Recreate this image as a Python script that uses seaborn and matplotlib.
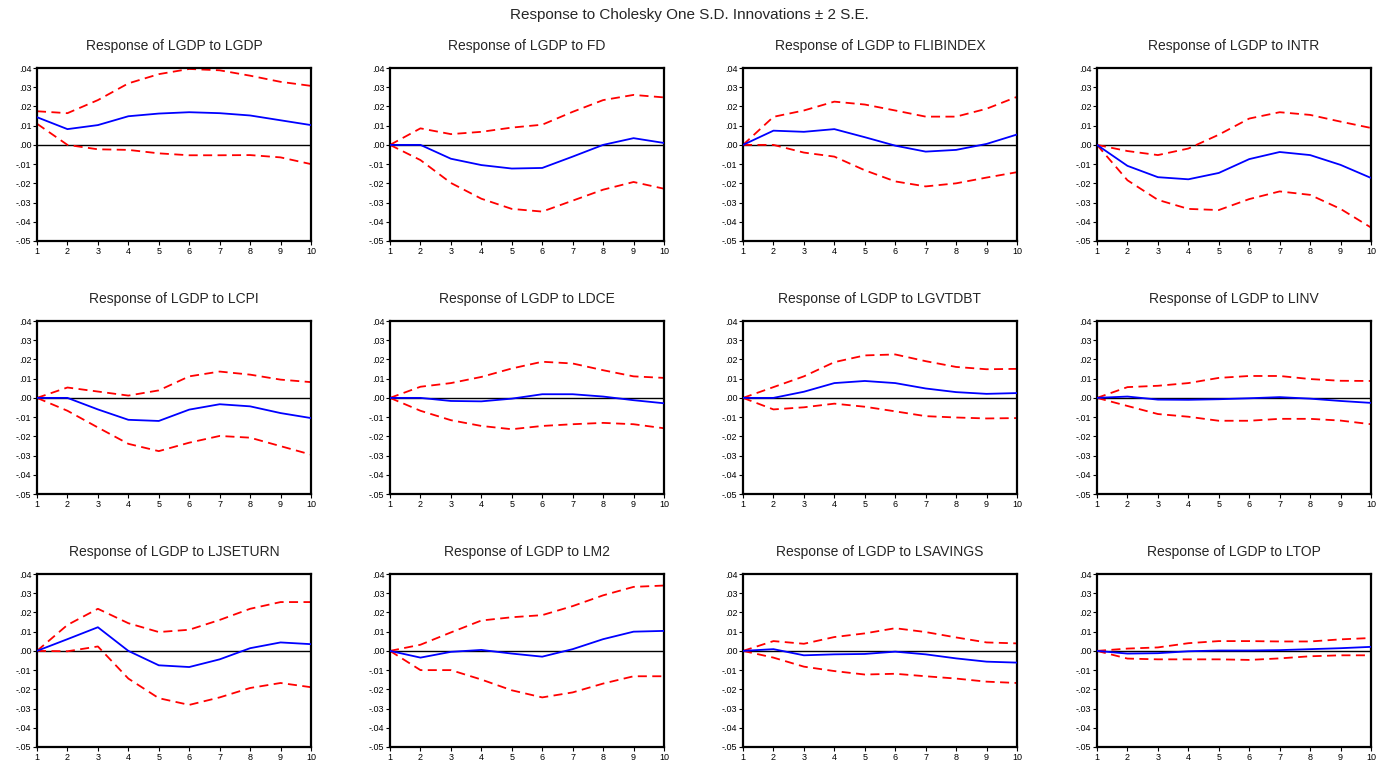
import matplotlib
matplotlib.use("Agg")
import matplotlib.pyplot as plt
import seaborn as sns
import numpy as np
import pandas as pd
from matplotlib.ticker import FuncFormatter

sns.set_style("white")
plt.rcParams['font.family'] = ['Liberation Sans', 'DejaVu Sans']

periods = list(range(1, 11))
shocks = ["LGDP", "FD", "FLIBINDEX", "INTR", "LCPI", "LDCE", "LGVTDBT", "LINV",
          "LJSETURN", "LM2", "LSAVINGS", "LTOP"]

resp_LGDP = [0.0144, 0.0082, 0.0103, 0.0149, 0.0163, 0.0170, 0.0165, 0.0153, 0.0128, 0.0103]
up_LGDP = [0.0175, 0.0165, 0.0233, 0.0320, 0.0368, 0.0395, 0.0388, 0.0360, 0.0328, 0.0307]
lo_LGDP = [0.0110, 0.0000, -0.0023, -0.0026, -0.0044, -0.0054, -0.0054, -0.0053, -0.0065, -0.0100]

resp_FD = [0.0, 0.0, -0.0072, -0.0105, -0.0123, -0.0120, -0.0061, 0.0, 0.0035, 0.0010]
up_FD = [0.0, 0.0086, 0.0056, 0.0068, 0.0090, 0.0105, 0.0172, 0.0233, 0.0260, 0.0247]
lo_FD = [0.0, -0.0079, -0.0198, -0.0280, -0.0333, -0.0347, -0.0290, -0.0233, -0.0193, -0.0228]

resp_FLIB = [0.0, 0.0074, 0.0068, 0.0082, 0.0040, -0.0004, -0.0035, -0.0026, 0.0005, 0.0054]
up_FLIB = [0.0, 0.0146, 0.0179, 0.0225, 0.0210, 0.0179, 0.0147, 0.0147, 0.0188, 0.0250]
lo_FLIB = [0.0, 0.0, -0.0040, -0.0061, -0.0132, -0.0190, -0.0216, -0.0200, -0.0170, -0.0142]

resp_INTR = [0.0, -0.0109, -0.0168, -0.0179, -0.0146, -0.0074, -0.0037, -0.0053, -0.0104, -0.0172]
up_INTR = [0.0, -0.0032, -0.0053, -0.0019, 0.0053, 0.0137, 0.0170, 0.0156, 0.0121, 0.0088]
lo_INTR = [0.0, -0.0184, -0.0286, -0.0333, -0.0339, -0.0282, -0.0242, -0.0260, -0.0333, -0.0430]

resp_LCPI = [0.0, 0.0, -0.0060, -0.0114, -0.0120, -0.0061, -0.0033, -0.0044, -0.0079, -0.0105]
up_LCPI = [0.0, 0.0054, 0.0033, 0.0012, 0.0039, 0.0112, 0.0137, 0.0121, 0.0095, 0.0082]
lo_LCPI = [0.0, -0.0067, -0.0154, -0.0239, -0.0277, -0.0233, -0.0198, -0.0207, -0.0251, -0.0295]

resp_LDCE = [0.0, 0.0, -0.0016, -0.0018, -0.0004, 0.0019, 0.0019, 0.0007, -0.0012, -0.0028]
up_LDCE = [0.0, 0.0058, 0.0077, 0.0109, 0.0153, 0.0188, 0.0179, 0.0144, 0.0112, 0.0104]
lo_LDCE = [0.0, -0.0067, -0.0116, -0.0146, -0.0163, -0.0146, -0.0137, -0.0130, -0.0137, -0.0158]

resp_LGVT = [0.0, 0.0, 0.0032, 0.0077, 0.0088, 0.0077, 0.0049, 0.0030, 0.0021, 0.0025]
up_LGVT = [0.0, 0.0056, 0.0112, 0.0186, 0.0221, 0.0226, 0.0191, 0.0161, 0.0149, 0.0151]
lo_LGVT = [0.0, -0.0060, -0.0049, -0.0030, -0.0046, -0.0070, -0.0095, -0.0102, -0.0107, -0.0105]

resp_LINV = [0.0, 0.0007, -0.0009, -0.0010, -0.0007, -0.0002, 0.0004, -0.0004, -0.0016, -0.0026]
up_LINV = [0.0, 0.0056, 0.0063, 0.0077, 0.0104, 0.0114, 0.0114, 0.0098, 0.0089, 0.0088]
lo_LINV = [0.0, -0.0042, -0.0084, -0.0098, -0.0119, -0.0119, -0.0109, -0.0109, -0.0118, -0.0137]

resp_LJSE = [0.0, 0.0061, 0.0123, 0.0, -0.0075, -0.0084, -0.0044, 0.0014, 0.0044, 0.0035]
up_LJSE = [0.0, 0.0135, 0.0219, 0.0144, 0.0098, 0.0110, 0.0161, 0.0219, 0.0254, 0.0254]
lo_LJSE = [0.0, -0.0002, 0.0023, -0.0144, -0.0246, -0.0281, -0.0242, -0.0193, -0.0167, -0.0189]

resp_LM2 = [0.0, -0.0035, -0.0005, 0.0005, -0.0014, -0.0030, 0.0009, 0.0061, 0.0100, 0.0104]
up_LM2 = [0.0, 0.0032, 0.0096, 0.0158, 0.0175, 0.0186, 0.0233, 0.0289, 0.0333, 0.0340]
lo_LM2 = [0.0, -0.0100, -0.0100, -0.0149, -0.0205, -0.0242, -0.0216, -0.0170, -0.0132, -0.0132]

resp_LSAV = [0.0, 0.0009, -0.0023, -0.0018, -0.0016, -0.0004, -0.0018, -0.0039, -0.0056, -0.0061]
up_LSAV = [0.0, 0.0051, 0.0037, 0.0072, 0.0091, 0.0118, 0.0098, 0.0070, 0.0044, 0.0039]
lo_LSAV = [0.0, -0.0035, -0.0082, -0.0105, -0.0123, -0.0119, -0.0132, -0.0144, -0.0160, -0.0167]

resp_LTOP = [0.0, -0.0014, -0.0012, -0.0002, 0.0002, 0.0002, 0.0004, 0.0009, 0.0014, 0.0021]
up_LTOP = [0.0, 0.0012, 0.0018, 0.0040, 0.0051, 0.0051, 0.0049, 0.0049, 0.0060, 0.0067]
lo_LTOP = [0.0, -0.0040, -0.0044, -0.0044, -0.0044, -0.0047, -0.0039, -0.0028, -0.0023, -0.0023]

responses = [resp_LGDP, resp_FD, resp_FLIB, resp_INTR, resp_LCPI, resp_LDCE,
             resp_LGVT, resp_LINV, resp_LJSE, resp_LM2, resp_LSAV, resp_LTOP]
uppers = [up_LGDP, up_FD, up_FLIB, up_INTR, up_LCPI, up_LDCE,
          up_LGVT, up_LINV, up_LJSE, up_LM2, up_LSAV, up_LTOP]
lowers = [lo_LGDP, lo_FD, lo_FLIB, lo_INTR, lo_LCPI, lo_LDCE,
          lo_LGVT, lo_LINV, lo_LJSE, lo_LM2, lo_LSAV, lo_LTOP]

y_ticks = [0.04, 0.03, 0.02, 0.01, 0.0, -0.01, -0.02, -0.03, -0.04, -0.05]

def fmt(v, pos):
    s = f"{v:.2f}"
    if s.startswith("-0"):
        s = "-" + s[2:]
    elif s.startswith("0"):
        s = s[1:]
    if s == "-.00":
        s = ".00"
    return s

fig = plt.figure(figsize=(13.79, 7.66), dpi=100)
W, H = 1379, 766
col_left = [37, 390, 743, 1097]
row_top = [68, 321, 574]
aw, ah = 274, 173

for i, shock in enumerate(shocks):
    r, c = divmod(i, 4)
    ax = fig.add_axes([col_left[c] / W, 1 - (row_top[r] + ah) / H, aw / W, ah / H])
    df = pd.DataFrame({"period": periods, "resp": responses[i],
                       "upper": uppers[i], "lower": lowers[i]})
    ax.axhline(0, color="black", lw=1.0, zorder=1)
    sns.lineplot(data=df, x="period", y="upper", ax=ax, color="#ff0000",
                 lw=1.3, linestyle=(0, (5, 3)), zorder=2)
    sns.lineplot(data=df, x="period", y="lower", ax=ax, color="#ff0000",
                 lw=1.3, linestyle=(0, (5, 3)), zorder=2)
    sns.lineplot(data=df, x="period", y="resp", ax=ax, color="#0000ff",
                 lw=1.3, zorder=3)
    ax.set_xlim(1, 10)
    ax.set_ylim(-0.05, 0.04)
    ax.set_xticks(periods)
    ax.set_yticks(y_ticks)
    ax.yaxis.set_major_formatter(FuncFormatter(fmt))
    ax.set_xlabel("")
    ax.set_ylabel("")
    ax.tick_params(axis="both", direction="out", length=3, width=0.8,
                   labelsize=6.5, pad=1, colors="black", left=True, bottom=True)
    for sp in ax.spines.values():
        sp.set_linewidth(1.6)
        sp.set_color("black")
    ax.set_title(f"Response of LGDP to {shock}", fontsize=10, pad=13)

fig.text(0.5, 1 - 15 / H, "Response to Cholesky One S.D. Innovations \u00b1 2 S.E.",
         ha="center", va="center", fontsize=11)

fig.savefig("out.png", dpi=100)
